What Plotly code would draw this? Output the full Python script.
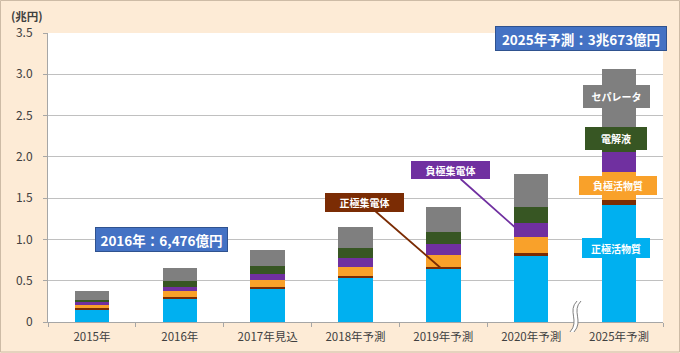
import plotly.graph_objects as go

categories = ["2015年", "2016年", "2017年見込", "2018年予測", "2019年予測", "2020年予測", "2025年予測"]
cathode_active = [0.149, 0.282, 0.408, 0.529, 0.638, 0.799, 1.413]      # 正極活物質
cathode_collector = [0.017, 0.017, 0.020, 0.028, 0.032, 0.032, 0.064]   # 正極集電体
anode_active = [0.040, 0.076, 0.080, 0.113, 0.141, 0.198, 0.335]        # 負極活物質
anode_collector = [0.032, 0.045, 0.073, 0.101, 0.133, 0.166, 0.250]     # 負極集電体
electrolyte = [0.028, 0.076, 0.097, 0.125, 0.146, 0.193, 0.287]         # 電解液
separator = [0.109, 0.152, 0.190, 0.250, 0.298, 0.404, 0.718]           # セパレータ

y_tickvals = [0, 0.5, 1.0, 1.5, 2.0, 2.5, 3.0, 3.5]
y_ticktext = ["0", "0.5", "1.0", "1.5", "2.0", "2.5", "3.0", "3.5"]

W, H = 680, 353
L, R, T, B = 48, 17, 33, 31
PW, PH = W - L - R, H - T - B

def px(x):
    return (x - L) / PW

def py(y):
    return (H - B - y) / PH

FONT = "Noto Sans CJK JP, Noto Sans, sans-serif"
C_BLUE = "#00B0F0"
C_BROWN = "#7B2C04"
C_ORANGE = "#F9A12A"
C_PURPLE = "#7030A0"
C_GREEN = "#375623"
C_GRAY = "#7F7F7F"

series = [
    ("正極活物質", cathode_active, C_BLUE),
    ("正極集電体", cathode_collector, C_BROWN),
    ("負極活物質", anode_active, C_ORANGE),
    ("負極集電体", anode_collector, C_PURPLE),
    ("電解液", electrolyte, C_GREEN),
    ("セパレータ", separator, C_GRAY),
]

fig = go.Figure()
for name, vals, col in series:
    fig.add_trace(go.Bar(x=categories, y=vals, name=name, marker=dict(color=col, line=dict(width=0)),
                         hoverinfo="x+y+name"))

annotations = []

def box(text, cx, cy, w, h, bg, size=10, border=None):
    bw = 1 if border else 0
    annotations.append(dict(
        text="<b>%s</b>" % text, xref="paper", yref="paper", x=px(cx), y=py(cy),
        xanchor="center", yanchor="middle", showarrow=False,
        width=w - 2 * bw, height=h - 2 * bw, borderpad=0, borderwidth=bw,
        bordercolor=border if border else bg, bgcolor=bg,
        font=dict(family=FONT, size=size, color="white"), align="center", valign="middle"))

annotations.append(dict(text="<b>(兆円)</b>", xref="paper", yref="paper", x=px(27), y=py(16),
                        xanchor="center", yanchor="middle", showarrow=False,
                        font=dict(family=FONT, size=11.5, color="#404040")))

box("2016年：6,476億円", 161, 239, 133, 25, "#4472C4", size=13.5, border="#2F528F")
box("2025年予測：3兆673億円", 581, 38, 172, 25, "#4472C4", size=13.5, border="#2F528F")
box("セパレータ", 616.5, 97, 67, 23, C_GRAY, size=10)
box("電解液", 616, 138.7, 62, 23, C_GREEN, size=10)
box("負極活物質", 618, 185, 78, 19, C_ORANGE, size=10)
box("正極活物質", 616, 247.7, 68, 20, C_BLUE, size=10)

# callouts with leader lines
annotations.append(dict(
    text="<b>正極集電体</b>", xref="x", yref="y", x=3.97, y=0.654, ax=364 - 440, ay=202 - 268,
    showarrow=True, arrowhead=0, arrowwidth=1.8, arrowcolor=C_BROWN, standoff=0,
    width=79, height=19, borderpad=0, bgcolor=C_BROWN, bordercolor=C_BROWN, borderwidth=0,
    font=dict(family=FONT, size=10, color="white")))
annotations.append(dict(
    text="<b>負極集電体</b>", xref="x", yref="y", x=4.815, y=1.147, ax=450.5 - 515, ay=170 - 227.3,
    showarrow=True, arrowhead=0, arrowwidth=1.8, arrowcolor=C_PURPLE, standoff=0,
    width=79, height=18, borderpad=0, bgcolor=C_PURPLE, bordercolor=C_PURPLE, borderwidth=0,
    font=dict(family=FONT, size=10, color="white")))

# axis break symbol (wavy double line)
def pth(pts):
    s = "M %f,%f " % (px(pts[0][0]), py(pts[0][1]))
    s += "C " + " ".join("%f,%f" % (px(a), py(b)) for a, b in pts[1:])
    return s

c1 = [(577, 301), (567, 311), (580, 321), (570, 332)]
c2 = [(581, 301), (571, 311), (584, 321), (574, 332)]
fill_path = pth(c1) + " L %f,%f C %f,%f %f,%f %f,%f Z" % (
    px(c2[3][0]), py(c2[3][1]), px(c2[2][0]), py(c2[2][1]), px(c2[1][0]), py(c2[1][1]), px(c2[0][0]), py(c2[0][1]))
shapes = [
    dict(type="path", xref="paper", yref="paper", path=fill_path, fillcolor="white", line=dict(width=0), layer="above"),
    dict(type="path", xref="paper", yref="paper", path=pth(c1), line=dict(color="#808080", width=1), layer="above"),
    dict(type="path", xref="paper", yref="paper", path=pth(c2), line=dict(color="#808080", width=1), layer="above"),
    dict(type="rect", xref="paper", yref="paper", x0=px(0.5), x1=px(W - 0.5), y0=py(0.5), y1=py(H - 1),
         line=dict(color="#CDBBA6", width=1), fillcolor="rgba(0,0,0,0)", layer="above"),
]

fig.update_layout(
    width=W, height=H, margin=dict(l=L, r=R, t=T, b=B, autoexpand=False),
    barmode="stack", bargap=0.607, showlegend=False,
    paper_bgcolor="#FDEBD6", plot_bgcolor="white",
    font=dict(family=FONT, size=11, color="#404040"),
    annotations=annotations, shapes=shapes,
    xaxis=dict(type="category", showgrid=False, showline=True, linecolor="#A6A6A6", linewidth=1,
               ticks="outside", tickson="boundaries", ticklen=4, tickcolor="#A6A6A6",
               ticklabelstandoff=4, automargin=False,
               tickfont=dict(family=FONT, size=11.5, color="#404040")),
    yaxis=dict(range=[0, 3.5], tickvals=y_tickvals, ticktext=y_ticktext, showgrid=True,
               gridcolor="#C0C0C0", gridwidth=1, showline=True, linecolor="#A6A6A6", linewidth=1,
               ticks="outside", ticklen=4, tickcolor="#A6A6A6", zeroline=False,
               ticklabelstandoff=8, automargin=False,
               tickfont=dict(family=FONT, size=12, color="#404040")),
)

fig.write_html("out.html")
